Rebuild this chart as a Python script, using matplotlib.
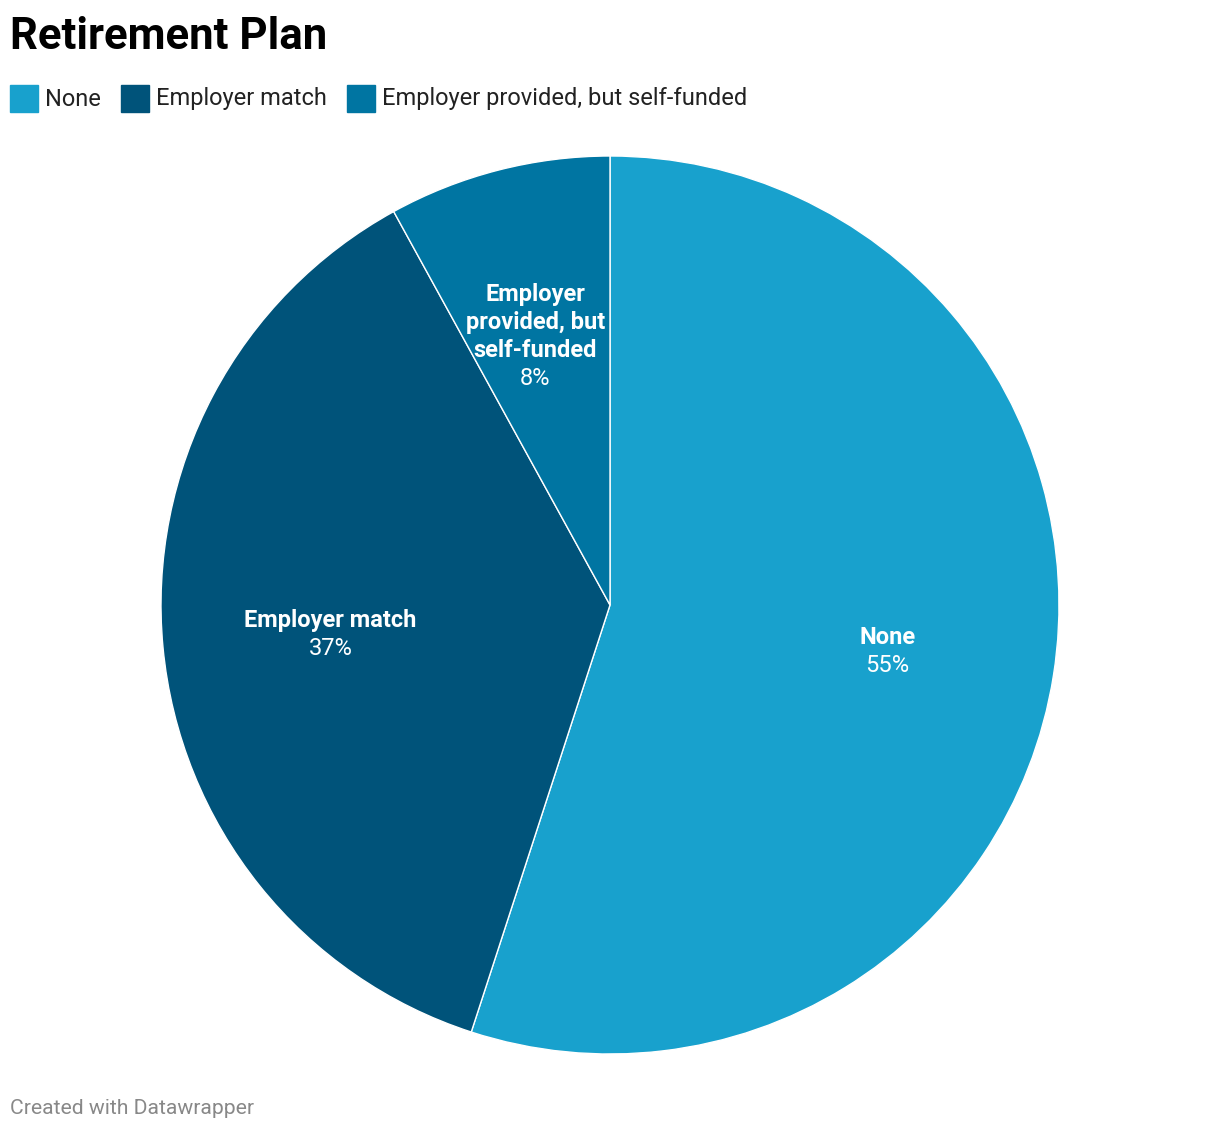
import numpy as np
import matplotlib.pyplot as plt

plt.rcParams['font.family'] = ['Roboto', 'DejaVu Sans']

# datos del grafico
categories = ['None', 'Employer match', 'Employer provided, but self-funded']
slice_labels = ['None', 'Employer match', 'Employer\nprovided, but\nself-funded']
values = [55, 37, 8]
colors = ['#18a1cd', '#00537a', '#0075a2']

W, H = 1220, 1132
fig = plt.figure(figsize=(W / 100, H / 100), dpi=100)

# eje del pie: centro (610, 605), radio 449 px
cx, cy, r = 610, 605, 449
ax = fig.add_axes([(cx - r) / W, (H - cy - r) / H, 2 * r / W, 2 * r / H])
wedges, _ = ax.pie(values, colors=colors, startangle=90, counterclock=False,
                   radius=1, wedgeprops=dict(edgecolor='white', linewidth=1.0))
ax.set_xlim(-1, 1)
ax.set_ylim(-1, 1)
ax.set_aspect('equal')
ax.axis('off')

# etiquetas dentro de cada porcion
total = sum(values)
line_h = 28 / r  # altura de linea en unidades del eje
start = 90
for lab, v in zip(slice_labels, values):
    mid = start - v / total * 360 / 2
    start -= v / total * 360
    x = 0.625 * np.cos(np.radians(mid))
    y = 0.625 * np.sin(np.radians(mid)) - 3 / r
    n = lab.count('\n') + 1
    if n > 1:
        x -= 5 / r  # que no toque el borde de la porcion
    top = y + (n + 1) * line_h / 2 - line_h / 2
    for i, line in enumerate(lab.split('\n')):
        ax.text(x, top - i * line_h, line, ha='center', va='center',
                color='white', fontsize=17, fontweight='bold')
    ax.text(x, top - n * line_h, f'{v}%', ha='center', va='center',
            color='white', fontsize=17)

# titulo
fig.text(10 / W, 1 - 37 / H, 'Retirement Plan', fontsize=31.5, fontweight='bold',
         va='center', ha='left', color='#000000')

# leyenda
xpos = 10
for lab, col in zip(categories, colors):
    fig.patches.append(plt.Rectangle((xpos / W, 1 - 112 / H), 28 / W, 27 / H,
                                     transform=fig.transFigure, color=col))
    t = fig.text((xpos + 35) / W, 1 - 99 / H, lab, fontsize=17, va='center',
                 ha='left', color='#222222')
    fig.canvas.draw()
    bb = t.get_window_extent()
    xpos = bb.x1 + 20

# pie de pagina
fig.text(10 / W, 1 - 1109 / H, 'Created with Datawrapper', fontsize=15.2,
         va='center', ha='left', color='#888888')

fig.savefig('out.png', dpi=100)
